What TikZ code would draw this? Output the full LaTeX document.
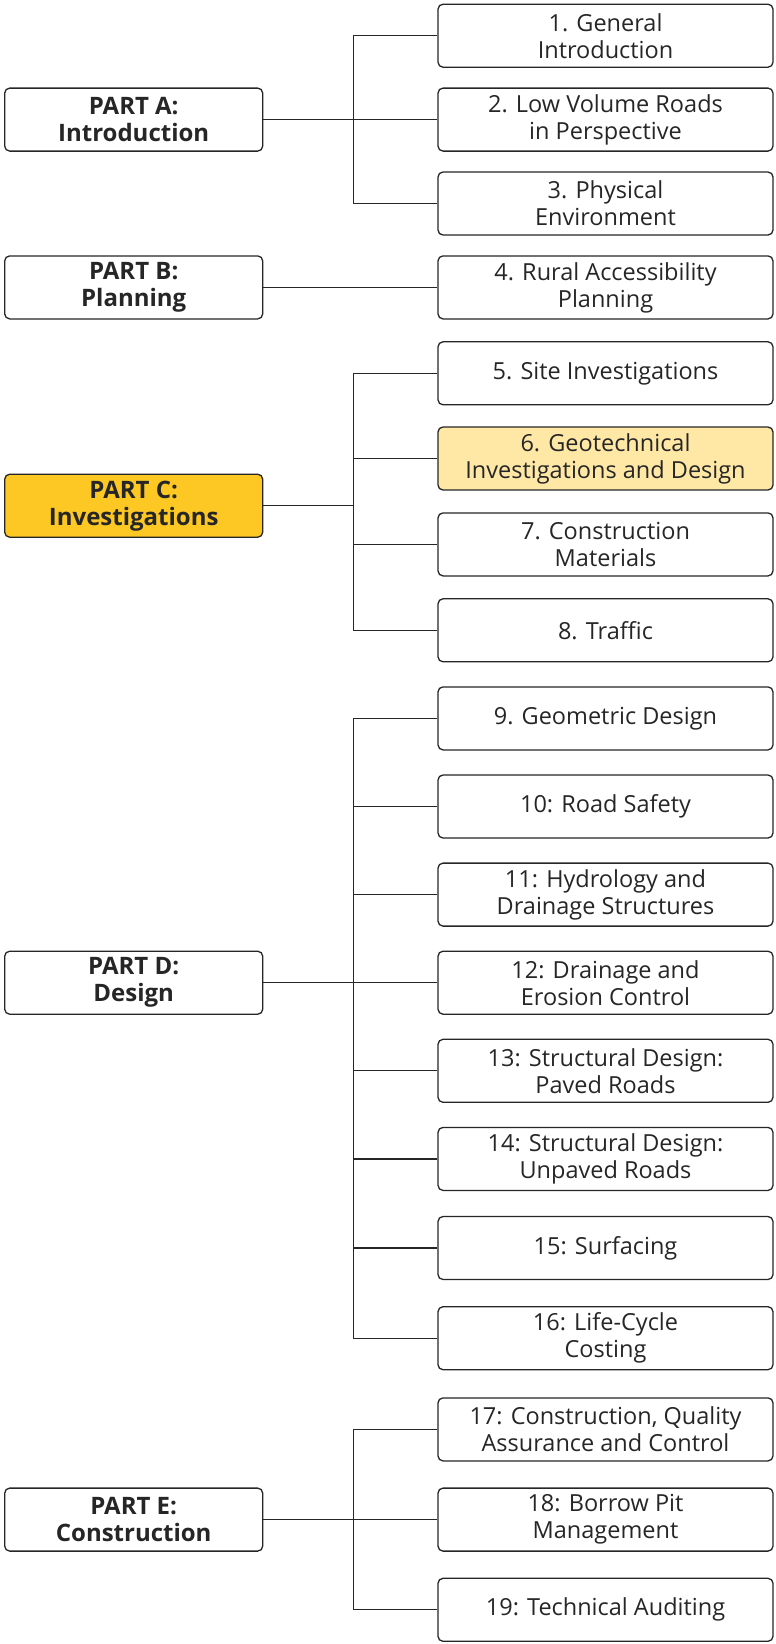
\documentclass[tikz,border=0pt]{standalone}
\usepackage{fontspec}
\setmainfont{Open Sans}
\usetikzlibrary{positioning,calc}

\definecolor{inkgray}{HTML}{262626}
\definecolor{partgold}{HTML}{FDC823}
\definecolor{chaplight}{HTML}{FFE8A6}

\begin{document}
\begin{tikzpicture}[x=1pt, y=1pt, node distance=23.8pt,
    part/.style={rectangle, draw=inkgray, line width=1.3pt, rounded corners=5pt, fill=white,
      minimum width=258pt, minimum height=63pt, align=center, text=inkgray,
      font=\fontsize{24}{27}\selectfont\bfseries},
    chap/.style={rectangle, draw=inkgray, line width=1.3pt, rounded corners=5pt, fill=white,
      minimum width=335pt, minimum height=63pt, align=center, text=inkgray,
      font=\fontsize{23.5}{27}\selectfont},
    link/.style={draw=inkgray, line width=1.3pt}]
    \useasboundingbox (0,0) rectangle (776,-1644);

    % Chapters
    \node [chap] (c1) at (605.5,-35.7) {1. General\\Introduction};
    \node [chap, below=19.6pt of c1] (c2) {2. Low Volume Roads\\in Perspective};
    \node [chap, below=19.6pt of c2] (c3) {3. Physical\\Environment};
    \node [chap, below=19.6pt of c3] (c4) {4. Rural Accessibility\\Planning};
    \node [chap, below=21.6pt of c4] (c5) {5. Site Investigations};
    \node [chap, below=20.9pt of c5, fill=chaplight] (c6) {6. Geotechnical\\Investigations and Design};
    \node [chap, below=21.6pt of c6] (c7) {7. Construction\\Materials};
    \node [chap, below=21.6pt of c7] (c8) {8. Traffic};
    \node [chap, below=of c8] (c9) {9. Geometric Design};
    \node [chap, below=of c9] (c10) {10: Road Safety};
    \node [chap, below=of c10] (c11) {11: Hydrology and\\Drainage Structures};
    \node [chap, below=of c11] (c12) {12: Drainage and\\Erosion Control};
    \node [chap, below=of c12] (c13) {13: Structural Design:\\Paved Roads};
    \node [chap, below=of c13] (c14) {14: Structural Design:\\Unpaved Roads};
    \node [chap, below=24.8pt of c14] (c15) {15: Surfacing};
    \node [chap, below=25.9pt of c15] (c16) {16: Life-Cycle\\Costing};
    \node [chap, below=26.9pt of c16] (c17) {17: Construction, Quality\\Assurance and Control};
    \node [chap, below=25.9pt of c17] (c18) {18: Borrow Pit\\Management};
    \node [chap, below=25.9pt of c18] (c19) {19: Technical Auditing};

    % Parts
    \node [part, left=174pt of c2] (pa) {PART A:\\Introduction};
    \node [part, left=174pt of c4] (pb) {PART B:\\Planning};
    \node [part, left=174pt of c6, yshift=-47.2pt, fill=partgold] (pc) {PART C:\\Investigations};
    \node [part, left=174pt of c12] (pd) {PART D:\\Design};
    \node [part, left=174pt of c18] (pe) {PART E:\\Construction};

    % Junctions
    \coordinate (ja) at ($(pa.east)+(90pt,0)$);
    \coordinate (jc) at ($(pc.east)+(90pt,0)$);
    \coordinate (jd) at ($(pd.east)+(90pt,0)$);
    \coordinate (je) at ($(pe.east)+(90pt,0)$);

    % Links
    \draw [link] (pa.east) -- (ja);
    \foreach \c in {c1,c2,c3} \draw [link] (\c.west) -| (ja);
    \draw [link] (pb.east) -- (c4.west);
    \draw [link] (pc.east) -- (jc);
    \foreach \c in {c5,c6,c7,c8} \draw [link] (\c.west) -| (jc);
    \draw [link] (pd.east) -- (jd);
    \foreach \c in {c9,c10,c11,c12,c13,c14,c15,c16} \draw [link] (\c.west) -| (jd);
    \draw [link] (pe.east) -- (je);
    \foreach \c in {c17,c18,c19} \draw [link] (\c.west) -| (je);
\end{tikzpicture}
\end{document}
